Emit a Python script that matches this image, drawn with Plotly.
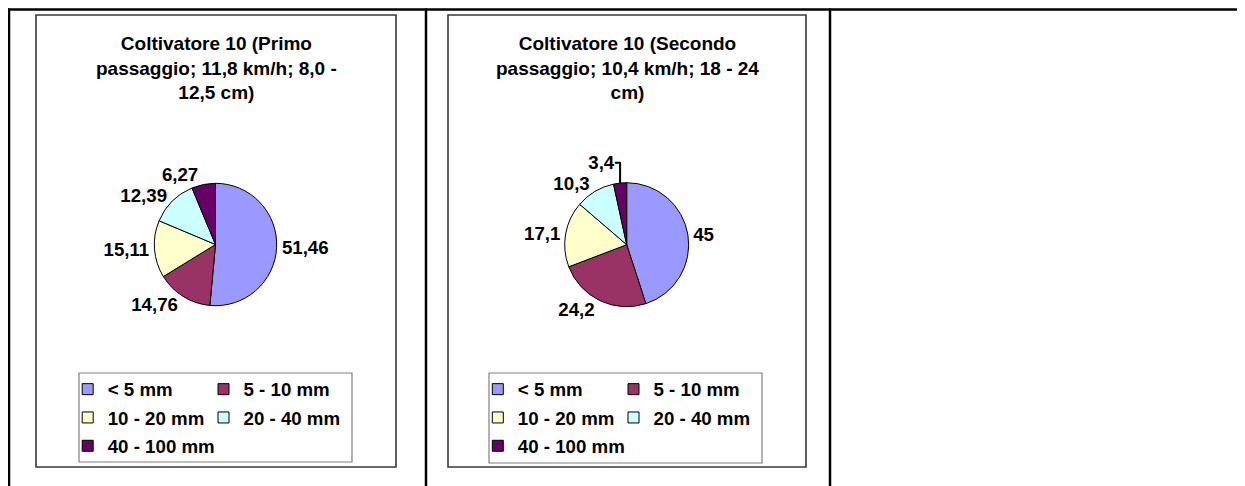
import plotly.graph_objects as go

# ---- data ----
categories = ["< 5 mm", "5 - 10 mm", "10 - 20 mm", "20 - 40 mm", "40 - 100 mm"]
values_primo = [51.46, 14.76, 15.11, 12.39, 6.27]
values_secondo = [45, 24.2, 17.1, 10.3, 3.4]
title_primo = "Coltivatore 10 (Primo<br>passaggio; 11,8 km/h; 8,0 -<br>12,5 cm)"
title_secondo = "Coltivatore 10 (Secondo<br>passaggio; 10,4 km/h; 18 - 24<br>cm)"
colors = ["#9999FF", "#993366", "#FFFFCC", "#CCFFFF", "#660066"]

# ---- layout helpers (page pixel -> paper); the page body has an 8px margin ----
OFF = 8
W, H = 1245 - OFF, 486 - OFF
def X(px):
    return (px - OFF) / W
def Y(py):
    return 1 - (py - OFF) / H

FONT = "Liberation Sans, Arial, sans-serif"
LBL = 18.7

charts = [
    dict(values=values_primo, title=title_primo, box=(36, 15, 396, 467),
         center=(215.5, 244.5), r=61.2, lbox=(79, 373, 352, 462),
         cols=(91.7, 227.5), legends=("legend", "legend2")),
    dict(values=values_secondo, title=title_secondo, box=(448, 15, 806, 467),
         center=(626.7, 244.7), r=62.0, lbox=(489, 373, 762, 463),
         cols=(501.8, 637.5), legends=("legend3", "legend4")),
]

fig = go.Figure()
shapes = []
annotations = []
layout_legends = {}

for ci, ch in enumerate(charts):
    cx, cy = ch["center"]
    r = ch["r"]
    fig.add_trace(go.Pie(
        labels=categories, values=ch["values"], sort=False,
        direction="clockwise", rotation=0,
        marker=dict(colors=colors, line=dict(color="black", width=1)),
        textinfo="value", textposition="outside",
        textfont=dict(family=FONT, size=LBL, color="black", weight="bold"),
        showlegend=False, hoverinfo="label+value",
        domain=dict(x=[X(cx - r), X(cx + r)], y=[Y(cy + r), Y(cy - r)]),
    ))
    # legend entries: column 1 -> items 0,2,4 ; column 2 -> items 1,3
    for i, (cat, col) in enumerate(zip(categories, colors)):
        lg = ch["legends"][i % 2]
        fig.add_trace(go.Scatter(
            x=[None], y=[None], mode="markers", name=cat,
            marker=dict(symbol="square", size=11, color=col,
                        line=dict(color="black", width=1)),
            legend=lg, legendgroup=f"g{ci}_{i}", showlegend=True,
            hoverinfo="skip",
        ))
    for k, lg in enumerate(ch["legends"]):
        layout_legends[lg] = dict(
            x=X(ch["cols"][k] - 24), xanchor="left",
            y=Y(370.5), yanchor="top",
            orientation="v", traceorder="grouped", tracegroupgap=1,
            bgcolor="rgba(0,0,0,0)", borderwidth=0,
            font=dict(family=FONT, size=LBL, color="black", weight="bold"),
            itemclick=False, itemdoubleclick=False,
        )
    bx0, by0, bx1, by1 = ch["box"]
    shapes.append(dict(type="rect", xref="paper", yref="paper",
                       x0=X(bx0), x1=X(bx1), y0=Y(by1), y1=Y(by0),
                       line=dict(color="#3a3a3a", width=1.6), layer="below"))
    lx0, ly0, lx1, ly1 = ch["lbox"]
    shapes.append(dict(type="rect", xref="paper", yref="paper",
                       x0=X(lx0), x1=X(lx1), y0=Y(ly1), y1=Y(ly0),
                       line=dict(color="#808080", width=1.2), layer="below"))
    annotations.append(dict(
        text=ch["title"], xref="paper", yref="paper",
        x=X((bx0 + bx1) / 2), y=Y(68), xanchor="center", yanchor="middle",
        showarrow=False, align="center",
        font=dict(family=FONT, size=19, color="black", weight="bold"),
    ))

# table grid lines
tl = dict(color="black", width=2.5)
shapes.append(dict(type="line", xref="paper", yref="paper",
                   x0=X(8), x1=X(1245), y0=Y(9.5), y1=Y(9.5), line=tl))
for xv in (9, 426, 830):
    shapes.append(dict(type="line", xref="paper", yref="paper",
                       x0=X(xv), x1=X(xv), y0=Y(8.5), y1=Y(486), line=tl))

fig.update_layout(
    width=W, height=H,
    margin=dict(l=0, r=0, t=0, b=0),
    paper_bgcolor="white", plot_bgcolor="white",
    separators=",.",
    xaxis=dict(visible=False), yaxis=dict(visible=False),
    shapes=shapes, annotations=annotations,
    showlegend=True,
    **layout_legends,
)

fig.write_html("out.html")
